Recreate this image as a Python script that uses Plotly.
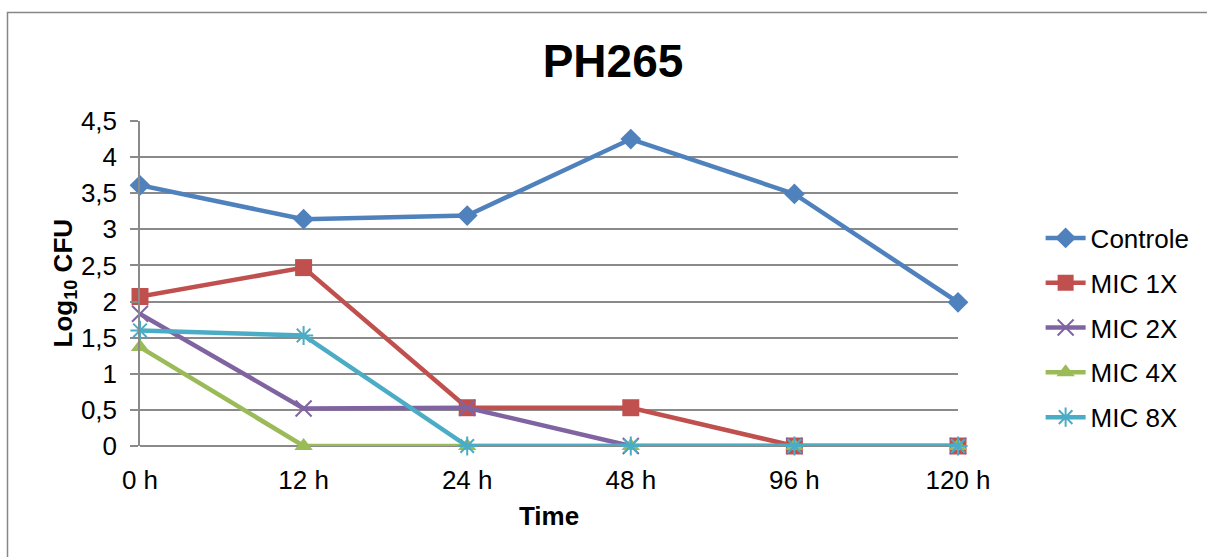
import plotly.graph_objects as go

# Sampling times and log10 CFU counts per treatment
times = ["0 h", "12 h", "24 h", "48 h", "96 h", "120 h"]
controle = [3.61, 3.14, 3.19, 4.25, 3.49, 1.99]
mic_1x = [2.07, 2.47, 0.53, 0.53, 0, 0]
mic_2x = [1.83, 0.52, 0.53, 0, 0, 0]
mic_4x = [1.37, 0, 0, 0, 0, 0]
mic_8x = [1.60, 1.53, 0, 0, 0, 0]

series = [
    ("Controle", controle, "#4F81BD", dict(symbol="diamond", size=16)),
    ("MIC 1X", mic_1x, "#C0504D", dict(symbol="square", size=17)),
    ("MIC 2X", mic_2x, "#8064A2", dict(symbol="x-thin-open", size=16, line=dict(width=2, color="#8064A2"))),
    ("MIC 4X", mic_4x, "#9BBB59", dict(symbol="triangle-up", size=16)),
    ("MIC 8X", mic_8x, "#4BACC6", dict(symbol="asterisk-open", size=16, line=dict(width=2, color="#4BACC6"))),
]

xpos = list(range(len(times)))

fig = go.Figure()
for i, (name, vals, color, marker) in enumerate(series):
    fig.add_trace(go.Scatter(
        x=xpos, y=vals, name=name, mode="lines+markers",
        line=dict(color=color, width=4.5),
        marker=dict(color=color, **marker),
        cliponaxis=False, legendgroup=name,
    ))

grid = "#8A8A8A"
font = "Liberation Sans, Arial, sans-serif"
fs = 26

fig.update_layout(
    width=1207, height=557,
    margin=dict(l=140, r=249, t=121, b=111),
    paper_bgcolor="white", plot_bgcolor="white",
    separators=",.",
    font=dict(family=font, size=fs, color="black"),
    title=dict(text="<b>PH265</b>", x=613 / 1207, xanchor="center",
               y=1 - 61 / 557, yanchor="middle",
               font=dict(family=font, size=46, color="black")),
    xaxis=dict(
        range=[0, 5], tickmode="array", tickvals=xpos, ticktext=times,
        showgrid=False, zeroline=False, showline=False,
        ticks="", ticklabelstandoff=16,
        tickfont=dict(size=fs),
        title=dict(text="<b>Time</b>", font=dict(size=fs), standoff=12),
    ),
    yaxis=dict(
        range=[0, 4.5], dtick=0.5, tick0=0,
        showgrid=True, gridcolor=grid, gridwidth=1.5,
        zeroline=True, zerolinecolor=grid, zerolinewidth=1.5,
        showline=True, linecolor=grid, linewidth=1.5,
        ticks="outside", ticklen=8, tickcolor=grid, tickwidth=1.5,
        ticklabelstandoff=8,
        tickfont=dict(size=fs),
    ),
    legend=dict(
        x=1.101, xanchor="left", y=0.363, yanchor="middle",
        font=dict(size=fs), tracegroupgap=8,
        bgcolor="rgba(0,0,0,0)", itemwidth=40,
    ),
    showlegend=True,
)

# Rotated y-axis title with subscript
fig.add_annotation(
    text="<b>Log<sub>10</sub> CFU</b>", textangle=-90,
    xref="paper", yref="paper", x=(64 - 140) / 818, y=0.5,
    xanchor="center", yanchor="middle", showarrow=False,
    font=dict(family=font, size=fs, color="black"),
)

# Chart frame
fig.add_shape(
    type="rect", xref="paper", yref="paper",
    x0=(7.5 - 140) / 818, x1=(1215 - 140) / 818,
    y0=(446 - 620) / 325, y1=(446 - 12.5) / 325,
    line=dict(color="#868686", width=1.5), fillcolor="rgba(0,0,0,0)",
    layer="below",
)

fig.write_html("out.html")
